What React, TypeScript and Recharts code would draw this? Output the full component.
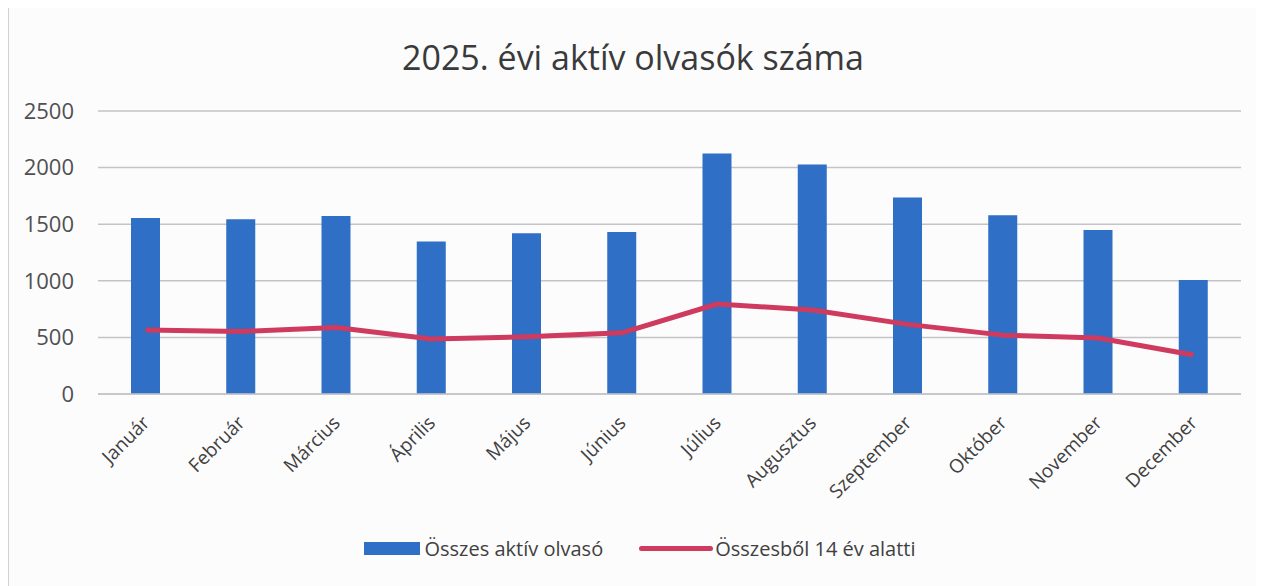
import { ComposedChart, Bar, Line, XAxis, YAxis, CartesianGrid, Legend } from 'recharts';

const months = ['Január', 'Február', 'Március', 'Április', 'Május', 'Június', 'Július', 'Augusztus', 'Szeptember', 'Október', 'November', 'December'];
const osszes = [1555, 1543, 1572, 1348, 1420, 1432, 2125, 2028, 1735, 1580, 1448, 1008];
const alatti = [565, 552, 588, 486, 505, 540, 795, 742, 615, 520, 495, 345];
const yTicks = [0, 500, 1000, 1500, 2000, 2500];

const data = months.map((m, i) => ({ month: m, osszes: osszes[i], alatti: alatti[i] }));

const BLUE = '#2f6fc6';
const RED = '#cf3a5f';
const FONT = 'Open Sans, Liberation Sans, sans-serif';

const MonthTick = ({ x, y, payload }: any) => (
  <text
    x={x + 5}
    y={y + 22}
    textAnchor="end"
    transform={`rotate(-45, ${x + 5}, ${y + 22})`}
    fontSize={19}
    fontFamily={FONT}
    fill="#404040"
  >
    {payload.value}
  </text>
);

const LegendBox = () => (
  <div style={{ display: 'flex', justifyContent: 'center', alignItems: 'center', fontFamily: FONT, fontSize: 20, color: '#404040', paddingLeft: 14 }}>
    <span style={{ display: 'inline-block', width: 56, height: 13, background: BLUE, marginRight: 4 }} />
    <span style={{ marginRight: 36 }}>Összes aktív olvasó</span>
    <span style={{ display: 'inline-block', width: 74, height: 5, background: RED, borderRadius: 3, marginRight: 2 }} />
    <span>Összesből 14 év alatti</span>
  </div>
);

export default function App() {
  return (
    <div style={{ position: 'relative', width: 1248, height: 578, background: '#fcfcfd', borderLeft: '1px solid #d0d0d8' }}>
      <div style={{ position: 'absolute', top: 26, left: 0, width: 1248, textAlign: 'center', fontFamily: FONT, fontSize: 34, color: '#3a3a3a' }}>
        2025. évi aktív olvasók száma
      </div>
      <ComposedChart width={1248} height={578} data={data} margin={{ top: 103, right: 16, bottom: 55, left: 0 }}>
        <CartesianGrid vertical={false} stroke="#c4c4c8" strokeWidth={1.5} />
        <XAxis dataKey="month" tick={<MonthTick />} tickLine={false} axisLine={{ stroke: '#c4c4c8', strokeWidth: 1.5 }} height={110} interval={0} />
        <YAxis
          domain={[0, 2500]}
          ticks={yTicks}
          width={89}
          tickLine={false}
          axisLine={false}
          tickMargin={18}
          tick={{ fontSize: 22, fontFamily: FONT, fill: '#505050' }}
        />
        <Bar dataKey="osszes" name="Összes aktív olvasó" fill={BLUE} barSize={29} isAnimationActive={false} />
        <Line dataKey="alatti" name="Összesből 14 év alatti" type="linear" stroke={RED} strokeWidth={5} strokeLinejoin="round" dot={false} isAnimationActive={false} />
        <Legend content={<LegendBox />} wrapperStyle={{ top: 527, left: 0, width: 1248 }} />
      </ComposedChart>
    </div>
  );
}
